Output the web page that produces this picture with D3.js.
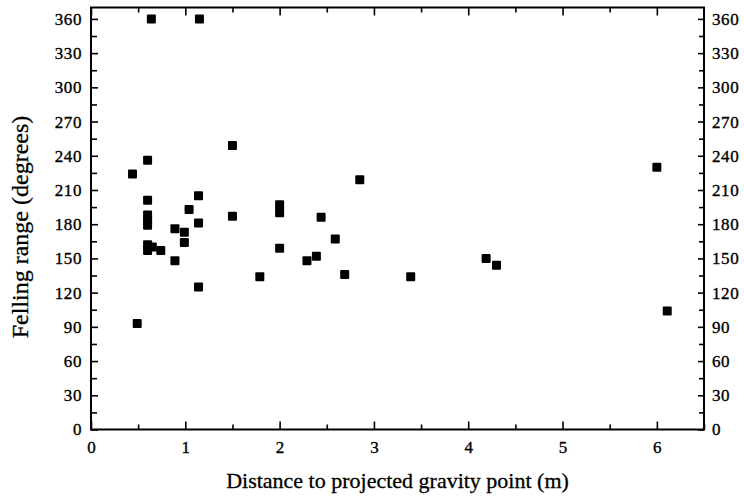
<!DOCTYPE html>
<html>
<head>
<meta charset="utf-8">
<script src="https://cdn.jsdelivr.net/npm/d3@7"></script>
<style>
  body { margin: 0; background: #fff; }
  svg { display: block; }
  .tick text { font-family: "Liberation Serif", "DejaVu Serif", serif; font-size: 17px; fill: #000; stroke: #000; stroke-width: 0.35px; }
</style>
</head>
<body>
<svg id="chart"></svg>
<script>
// distance to projected gravity point (m) and felling range (degrees)
const distance = [0.64, 1.15, 0.44, 0.60, 1.50, 0.60, 1.14, 1.04, 0.60, 0.60, 0.60, 1.50, 2.00,
  2.00, 2.44, 0.89, 0.99, 1.14, 0.99, 0.60, 0.60, 0.65, 0.74, 0.89, 2.00, 2.29, 2.39, 1.79,
  1.14, 0.49, 2.85, 6.00, 2.59, 2.69, 3.39, 4.19, 4.30, 6.11];
const felling = [360, 360, 224, 236, 249, 201, 205, 193, 188, 183, 179, 187, 197,
  190, 186, 176, 173, 181, 164, 162, 157, 160, 157, 148, 159, 148, 152, 134,
  125, 93, 219, 230, 167, 136, 134, 150, 144, 104];

const xTicks = [0, 1, 2, 3, 4, 5, 6];
const xMinor = [0.5, 1.5, 2.5, 3.5, 4.5, 5.5, 6.5];
const yTicks = [0, 30, 60, 90, 120, 150, 180, 210, 240, 270, 300, 330, 360];
const yMinor = [15, 45, 75, 105, 135, 165, 195, 225, 255, 285, 315, 345];

const width = 744, height = 501;
const mLeft = 91, mRight = 704, mTop = 7.5, mBottom = 429.5;

const svg = d3.select('#chart').attr('width', width).attr('height', height);

const x = d3.scaleLinear().domain([0, 6.5]).range([mLeft, mRight]);
const y = d3.scaleLinear().domain([0, 370]).range([mBottom, mTop]);

function styleAxis(g) {
  g.select('.domain').remove();
  g.selectAll('.tick line').attr('stroke', '#000').attr('stroke-width', 1.6);
}

// bottom
svg.append('g').attr('transform', `translate(0,${mBottom})`)
  .call(d3.axisBottom(x).tickValues(xTicks).tickSize(-8).tickPadding(11).tickFormat(d3.format('d')))
  .call(styleAxis)
  .selectAll('text').attr('dy', '0.71em');
svg.append('g').attr('transform', `translate(0,${mBottom})`)
  .call(d3.axisBottom(x).tickValues(xMinor).tickSize(-5).tickFormat(''))
  .call(styleAxis);

// top
svg.append('g').attr('transform', `translate(0,${mTop})`)
  .call(d3.axisTop(x).tickValues(xTicks).tickSize(-8).tickFormat(''))
  .call(styleAxis);
svg.append('g').attr('transform', `translate(0,${mTop})`)
  .call(d3.axisTop(x).tickValues(xMinor.slice(0, -1)).tickSize(-5).tickFormat(''))
  .call(styleAxis);

// left
svg.append('g').attr('transform', `translate(${mLeft},0)`)
  .call(d3.axisLeft(y).tickValues(yTicks).tickSize(-7).tickPadding(9))
  .call(styleAxis)
  .selectAll('text').attr('letter-spacing', '0.6px');
svg.append('g').attr('transform', `translate(${mLeft},0)`)
  .call(d3.axisLeft(y).tickValues(yMinor).tickSize(-6).tickFormat(''))
  .call(styleAxis);

// right
svg.append('g').attr('transform', `translate(${mRight},0)`)
  .call(d3.axisRight(y).tickValues(yTicks).tickSize(-6).tickPadding(8))
  .call(styleAxis)
  .selectAll('text').attr('letter-spacing', '0.6px');
svg.append('g').attr('transform', `translate(${mRight},0)`)
  .call(d3.axisRight(y).tickValues(yMinor).tickSize(-5).tickFormat(''))
  .call(styleAxis);

// frame
svg.append('rect')
  .attr('x', mLeft).attr('y', mTop)
  .attr('width', mRight - mLeft).attr('height', mBottom - mTop)
  .attr('fill', 'none').attr('stroke', '#000').attr('stroke-width', 2);

// points
const s = 9;
svg.append('g').selectAll('rect')
  .data(distance.map((d, i) => [d, felling[i]]))
  .join('rect')
  .attr('x', d => x(d[0]) - s / 2)
  .attr('y', d => y(d[1]) - s / 2)
  .attr('width', s).attr('height', s)
  .attr('rx', 1)
  .attr('fill', '#000');

// titles
svg.append('text')
  .attr('x', (mLeft + mRight) / 2).attr('y', 488)
  .attr('text-anchor', 'middle')
  .style('font-family', '"Liberation Serif", serif').style('font-size', '22px')
  .style('stroke', '#000').style('stroke-width', '0.3px')
  .text('Distance to projected gravity point (m)');

svg.append('text')
  .attr('transform', `translate(28,227) rotate(-90)`)
  .attr('text-anchor', 'middle')
  .style('font-family', '"Liberation Serif", serif').style('font-size', '24px')
  .style('stroke', '#000').style('stroke-width', '0.3px')
  .text('Felling range (degrees)');
</script>
</body>
</html>
